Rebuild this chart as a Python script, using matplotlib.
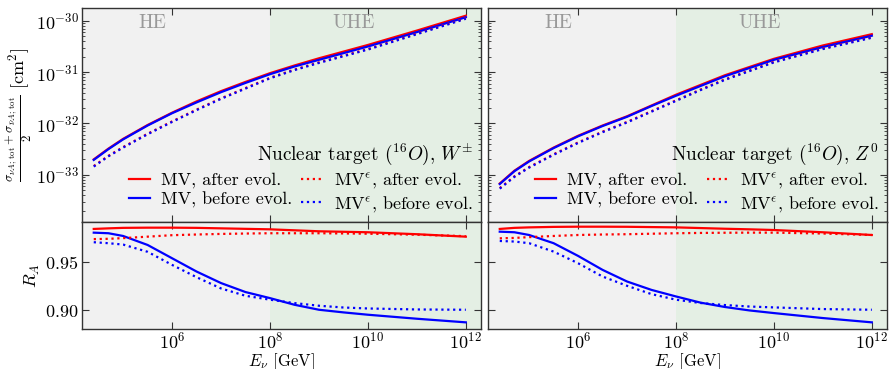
import numpy as np
import matplotlib
matplotlib.use("Agg")
import matplotlib.pyplot as plt
from matplotlib.ticker import LogLocator, NullLocator, FixedLocator

plt.rcParams['font.family'] = 'serif'
plt.rcParams['font.serif'] = ['cmr10']
plt.rcParams['mathtext.fontset'] = 'cm'
plt.rcParams['axes.unicode_minus'] = False
plt.rcParams['axes.formatter.use_mathtext'] = True

# neutrino energy grid (log10 E / GeV)
logE = [4.4, 4.7, 5.0, 5.5, 6.0, 6.5, 7.0, 7.5, 8.0, 8.5, 9.0, 9.5, 10.0, 11.0, 12.0]

# log10 of averaged cross section [cm^2], W+- exchange
W_mv_after = [-32.70, -32.49, -32.30, -32.03, -31.79, -31.57, -31.37, -31.19, -31.02, -30.87, -30.73, -30.60, -30.47, -30.19, -29.90]
W_mv_before = [-32.71, -32.50, -32.31, -32.04, -31.80, -31.59, -31.39, -31.21, -31.04, -30.89, -30.76, -30.63, -30.50, -30.22, -29.93]
W_mve_after = [-32.83, -32.63, -32.46, -32.20, -31.96, -31.73, -31.51, -31.31, -31.11, -30.95, -30.81, -30.68, -30.55, -30.25, -29.95]
W_mve_before = [-32.84, -32.64, -32.47, -32.21, -31.97, -31.74, -31.52, -31.32, -31.12, -30.96, -30.82, -30.69, -30.56, -30.26, -29.96]

# Z0 exchange
Z_mv_after = [-33.17, -32.92, -32.73, -32.47, -32.24, -32.04, -31.86, -31.65, -31.44, -31.25, -31.06, -30.90, -30.74, -30.48, -30.26]
Z_mv_before = [-33.18, -32.93, -32.74, -32.48, -32.25, -32.05, -31.87, -31.66, -31.46, -31.27, -31.08, -30.92, -30.76, -30.51, -30.29]
Z_mve_after = [-33.26, -33.03, -32.85, -32.60, -32.37, -32.16, -31.97, -31.76, -31.55, -31.34, -31.14, -30.97, -30.80, -30.54, -30.32]
Z_mve_before = [-33.27, -33.04, -32.86, -32.61, -32.38, -32.17, -31.98, -31.77, -31.56, -31.35, -31.15, -30.98, -30.81, -30.55, -30.33]

# nuclear modification ratio R_A
RW_mv_after = [0.9834, 0.9840, 0.9845, 0.9847, 0.9847, 0.9845, 0.9840, 0.9835, 0.9830, 0.9820, 0.9810, 0.9805, 0.9800, 0.9780, 0.9755]
RW_mv_before = [0.9796, 0.9790, 0.9762, 0.9670, 0.9534, 0.9398, 0.9280, 0.9188, 0.9126, 0.9058, 0.9007, 0.8980, 0.8956, 0.8915, 0.8878]
RW_mve_after = [0.9730, 0.9733, 0.9740, 0.9755, 0.9770, 0.9777, 0.9783, 0.9787, 0.9790, 0.9790, 0.9790, 0.9788, 0.9785, 0.9775, 0.9760]
RW_mve_before = [0.9698, 0.9688, 0.9674, 0.9600, 0.9466, 0.9340, 0.9225, 0.9150, 0.9110, 0.9075, 0.9048, 0.9030, 0.9020, 0.9010, 0.9007]

RZ_mv_after = [0.9834, 0.9845, 0.9850, 0.9855, 0.9857, 0.9857, 0.9856, 0.9853, 0.9850, 0.9843, 0.9836, 0.9830, 0.9823, 0.9800, 0.9772]
RZ_mv_before = [0.9806, 0.9800, 0.9772, 0.9688, 0.9558, 0.9415, 0.9296, 0.9210, 0.9143, 0.9080, 0.9035, 0.9000, 0.8973, 0.8922, 0.8878]
RZ_mve_after = [0.9738, 0.9742, 0.9750, 0.9762, 0.9772, 0.9777, 0.9780, 0.9785, 0.9790, 0.9793, 0.9795, 0.9796, 0.9796, 0.9787, 0.9772]
RZ_mve_before = [0.9711, 0.9705, 0.9688, 0.9602, 0.9483, 0.9347, 0.9252, 0.9167, 0.9110, 0.9076, 0.9055, 0.9040, 0.9031, 0.9014, 0.9007]

labels = ["MV, after evol.", "MV, before evol.", r"MV$^{\epsilon}$, after evol.", r"MV$^{\epsilon}$, before evol."]
titles = [r"Nuclear target ($^{16}O$), $W^{\pm}$", r"Nuclear target ($^{16}O$), $Z^{0}$"]

E = 10 ** np.array(logE)
fig = plt.figure(figsize=(8.9, 3.69), dpi=100)

lefts = [82 / 890, 488 / 890]
width = 399 / 890
top_ax = []
bot_ax = []
for i in range(2):
    at = fig.add_axes([lefts[i], 1 - 222 / 369, width, 214 / 369])
    ab = fig.add_axes([lefts[i], 1 - 329 / 369, width, 107 / 369], sharex=at)
    top_ax.append(at)
    bot_ax.append(ab)

sig_sets = [(W_mv_after, W_mv_before, W_mve_after, W_mve_before),
            (Z_mv_after, Z_mv_before, Z_mve_after, Z_mve_before)]
r_sets = [(RW_mv_after, RW_mv_before, RW_mve_after, RW_mve_before),
          (RZ_mv_after, RZ_mv_before, RZ_mve_after, RZ_mve_before)]
colors = ['red', 'blue', 'red', 'blue']
styles = ['-', '-', ':', ':']

for i in range(2):
    at, ab = top_ax[i], bot_ax[i]
    for ax in (at, ab):
        ax.axvspan(1e3, 1e8, color='#f1f1f1', zorder=0, lw=0)
        ax.axvspan(1e8, 1e13, color='#e4efe4', zorder=0, lw=0)
        ax.set_xscale('log')
        ax.set_xlim(10 ** 4.16, 10 ** 12.31)
        for s in ax.spines.values():
            s.set_color('#333333')
            s.set_linewidth(1.0)
        ax.tick_params(which='both', direction='in', top=True, right=True, colors='#333333', labelcolor='black')
        ax.tick_params(which='major', length=5, labelsize=13, pad=2.5)
        ax.tick_params(which='minor', length=2.5)
        ax.tick_params(axis='x', pad=1)
        ax.xaxis.set_major_locator(FixedLocator([1e6, 1e8, 1e10, 1e12]))
        ax.xaxis.set_minor_locator(NullLocator())

    for j in range(4):
        at.plot(E, 10 ** np.array(sig_sets[i][j]), color=colors[j], ls=styles[j], lw=1.6, label=labels[j])
        ab.plot(E, r_sets[i][j], color=colors[j], ls=styles[j], lw=1.6)

    at.set_yscale('log')
    at.set_ylim(10 ** -33.92, 10 ** -29.75)
    at.yaxis.set_major_locator(LogLocator(base=10, numticks=10))
    at.yaxis.set_minor_locator(LogLocator(base=10, subs=np.arange(2, 10), numticks=20))
    at.tick_params(labelbottom=False)

    ab.set_ylim(0.881, 0.9905)
    ab.yaxis.set_major_locator(FixedLocator([0.90, 0.95]))
    ab.yaxis.set_minor_locator(NullLocator())
    ab.set_xlabel(r"$E_\nu$ [GeV]", fontsize=12, labelpad=0)

    at.text(10 ** 5.6, 10 ** -30.05, "HE", color='#999999', fontsize=14, ha='center', va='center')
    at.text(10 ** 9.7, 10 ** -30.05, "UHE", color='#999999', fontsize=14, ha='center', va='center')

    leg = at.legend(ncol=2, loc='lower right', frameon=False, fontsize=13,
                    title=titles[i], title_fontsize=13.8, alignment='right',
                    handlelength=1.2, handletextpad=0.6, columnspacing=0.5,
                    labelspacing=0.2, borderaxespad=0.25, borderpad=0.2)

    if i == 1:
        at.tick_params(labelleft=False)
        ab.tick_params(labelleft=False)

top_ax[0].set_ylabel(r"$\frac{\sigma_{\nu A;\,\mathrm{tot}}+\sigma_{\bar{\nu} A;\,\mathrm{tot}}}{2}\ [\mathrm{cm}^2]$", fontsize=13, labelpad=1)
bot_ax[0].set_ylabel(r"$R_A$", fontsize=13, labelpad=2)

fig.savefig("out.png", dpi=100)
